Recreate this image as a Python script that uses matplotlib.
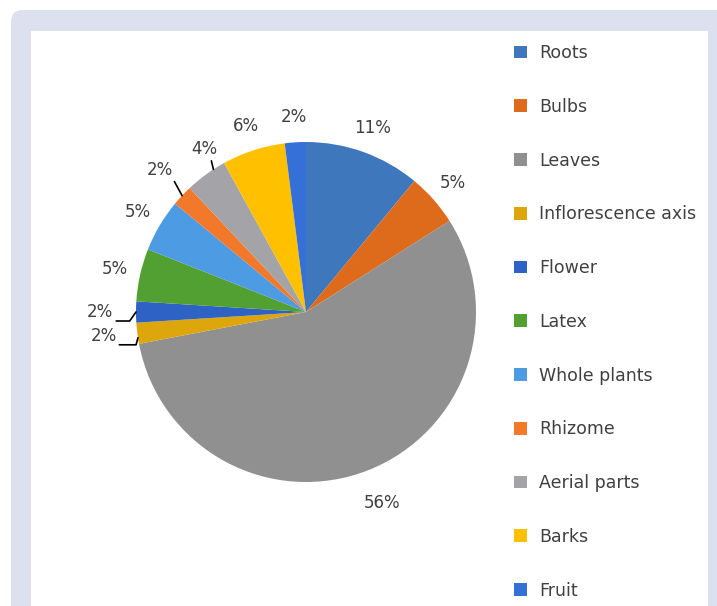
import numpy as np
import matplotlib.pyplot as plt
from matplotlib.patches import FancyBboxPatch, Rectangle

# plant parts used, share of reports (%)
parts = ["Roots", "Bulbs", "Leaves", "Inflorescence axis", "Flower", "Latex",
         "Whole plants", "Rhizome", "Aerial parts", "Barks", "Fruit"]
shares = [11, 5, 56, 2, 2, 5, 5, 2, 4, 6, 2]

colors = ["#3F77BC", "#DE6B1C", "#909090", "#DCA60C", "#2E62C4", "#52A032",
          "#4C9BE3", "#F2782A", "#A3A3A8", "#FFC000", "#3470D8"]

# labels that sit off their slice with a short leader line:
# label radius, label angle shift, start point on label, end angle shift, connection
leader = {"Inflorescence axis": (1.20, -0.5, (1.0, 0.0), 1.5, "angle,angleA=0,angleB=75,rad=0"),
          "Flower": (1.21, 0.0, (1.0, 0.0), 0.0, "angle,angleA=0,angleB=55,rad=0"),
          "Rhizome": (1.20, -1.0, (1.0, 0.0), 0.0, "arc3"),
          "Aerial parts": (1.13, -4.0, (0.75, 0.0), -3.0, "arc3")}

TEXT = "#404040"
W, H = 717, 606


def draw_frame(fig):
    inch = fig.dpi_scale_trans
    outer = FancyBboxPatch((11 / 100, -1.0), 8.0, (H - 10) / 100 + 1.0,
                           boxstyle="round,pad=0,rounding_size=0.12",
                           transform=inch, facecolor="#DDE0EE",
                           edgecolor="none", zorder=-3)
    panel = Rectangle((31 / 100, -1.0), (708 - 31) / 100, (H - 31) / 100 + 1.0,
                      transform=inch, facecolor="white", edgecolor="none",
                      zorder=-2)
    strip = Rectangle((708 / 100, -1.0), 1.0, (H - 31) / 100 + 1.0,
                      transform=inch, facecolor="#DDE0EE", edgecolor="none",
                      zorder=10)
    fig.patches.extend([outer, panel, strip])


def main():
    fig = plt.figure(figsize=(W / 100, H / 100), dpi=100, facecolor="white")
    draw_frame(fig)

    cx, cy, r = 306, 312, 170
    ax = fig.add_axes([(cx - r) / W, (H - cy - r) / H, 2 * r / W, 2 * r / H])
    wedges, _ = ax.pie(shares, colors=colors, startangle=90, counterclock=False,
                       radius=1.0, wedgeprops=dict(linewidth=0))
    ax.set_xlim(-1, 1)
    ax.set_ylim(-1, 1)
    ax.set_aspect("equal")
    ax.axis("off")

    for w, name, val in zip(wedges, parts, shares):
        mid = (w.theta1 + w.theta2) / 2
        txt = f"{val}%"
        if name in leader:
            rad, dang, rel, eang, conn = leader[name]
            a = np.deg2rad(mid + dang)
            e = np.deg2rad(mid + eang)
            ax.annotate(txt, xy=(np.cos(e), np.sin(e)),
                        xytext=(rad * np.cos(a), rad * np.sin(a)),
                        ha="center", va="center", fontsize=12, color=TEXT,
                        arrowprops=dict(arrowstyle="-", color="black", lw=1.2,
                                        relpos=rel, shrinkA=0, shrinkB=0,
                                        connectionstyle=conn))
        else:
            rad = 1.21 if val > 50 else 1.15
            a = np.deg2rad(mid)
            ax.text(rad * np.cos(a), rad * np.sin(a), txt, ha="center",
                    va="center", fontsize=12, color=TEXT)

    leg = fig.legend(wedges, parts, loc="upper left",
                     bbox_to_anchor=(514 / W, 1 - 44 / H), frameon=False,
                     fontsize=12.5, handlelength=0.75, handleheight=0.75,
                     handletextpad=0.7, labelspacing=2.06, borderpad=0,
                     borderaxespad=0)
    for t in leg.get_texts():
        t.set_color(TEXT)

    fig.savefig("out.png", dpi=100, facecolor="white")
    plt.close(fig)


if __name__ == "__main__":
    main()
